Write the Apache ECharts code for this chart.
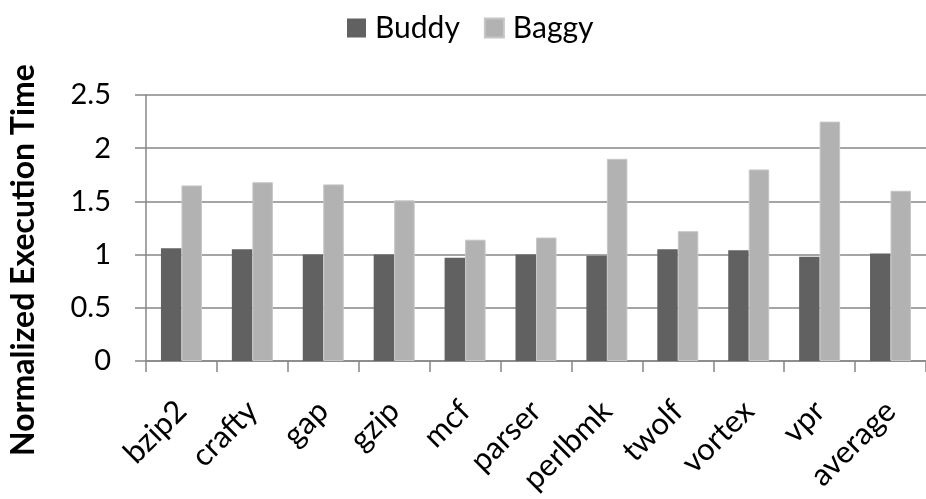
<!DOCTYPE html>
<html>
<head>
<meta charset="utf-8">
<script src="https://cdn.jsdelivr.net/npm/echarts@6/dist/echarts.min.js"></script>
<style>
  html, body { margin: 0; padding: 0; background: #ffffff; }
  #chart { width: 926px; height: 499px; }
</style>
</head>
<body>
<div id="chart"></div>
<script>
// Benchmarks on the x axis
const categories = ['bzip2', 'crafty', 'gap', 'gzip', 'mcf', 'parser', 'perlbmk', 'twolf', 'vortex', 'vpr', 'average'];
// Normalized execution time per benchmark
const buddy = [1.06, 1.05, 1.00, 1.00, 0.97, 1.00, 0.99, 1.05, 1.04, 0.98, 1.01];
const baggy = [1.65, 1.68, 1.66, 1.51, 1.14, 1.16, 1.90, 1.22, 1.80, 2.25, 1.60];
const yTicks = { min: 0, max: 2.5, interval: 0.5 };

const FONT = 'Lato';
const AXIS_GRAY = '#878787';

const chart = echarts.init(document.getElementById('chart'), null, { renderer: 'canvas' });
chart.setOption({
  backgroundColor: '#ffffff',
  animation: false,
  textStyle: { fontFamily: FONT, color: '#000000' },
  legend: {
    left: 342,
    top: 8,
    itemWidth: 19,
    itemHeight: 19,
    itemGap: 24,
    icon: 'rect',
    textStyle: { fontFamily: FONT, fontSize: 30, color: '#000000', padding: [0, 0, 0, 4] },
    data: ['Buddy', 'Baggy']
  },
  grid: { left: 143, top: 95, width: 792, height: 266, containLabel: false },
  xAxis: {
    type: 'category',
    data: categories,
    axisLine: { lineStyle: { color: AXIS_GRAY, width: 1.5 } },
    axisTick: { show: true, length: 11, lineStyle: { color: AXIS_GRAY, width: 1.5 } },
    axisLabel: { rotate: 45, margin: 45, padding: [34, 0, 0, 0], fontFamily: FONT, fontSize: 31, color: '#000000', interval: 0 }
  },
  yAxis: {
    type: 'value',
    min: yTicks.min,
    max: yTicks.max,
    interval: yTicks.interval,
    name: 'Normalized Execution Time',
    nameLocation: 'middle',
    nameGap: 106,
    nameTextStyle: { fontFamily: FONT, fontSize: 32, fontWeight: 'bold', color: '#000000', padding: [0, 64, 0, 0] },
    axisLine: { show: true, lineStyle: { color: AXIS_GRAY, width: 1.5 } },
    axisTick: { show: true, length: 11, lineStyle: { color: AXIS_GRAY, width: 1.5 } },
    splitLine: { show: true, lineStyle: { color: AXIS_GRAY, width: 1.5 } },
    axisLabel: { margin: 35, fontFamily: FONT, fontSize: 29, color: '#000000' }
  },
  series: [
    {
      name: 'Buddy',
      type: 'bar',
      data: buddy,
      barWidth: 20.5,
      barGap: '0%',
      itemStyle: { color: '#616161' }
    },
    {
      name: 'Baggy',
      type: 'bar',
      data: baggy,
      barWidth: 20.5,
      barGap: '0%',
      itemStyle: { color: '#b2b2b2', borderColor: '#c6c6c6', borderWidth: 1 }
    }
  ]
});
</script>
</body>
</html>
